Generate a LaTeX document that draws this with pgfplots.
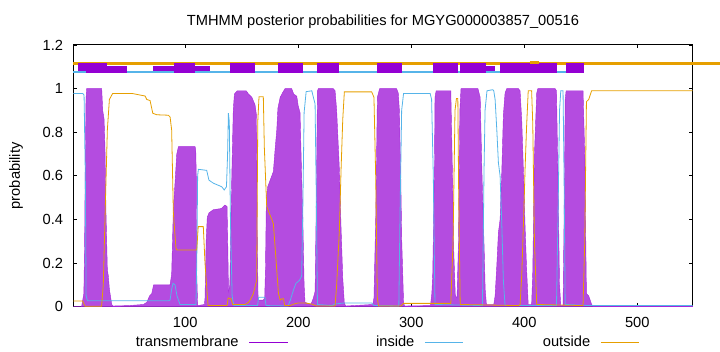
\documentclass[border=0pt]{standalone}
\usepackage{fontspec}
\setmainfont{Liberation Sans}
\usepackage{pgfplots}
\usepackage{pgfplotstable}
\pgfplotsset{compat=1.18}
\definecolor{tmc}{HTML}{9400D3}
\definecolor{tmfill}{HTML}{B44CE0}
\definecolor{inc}{HTML}{56B4E9}
\definecolor{outc}{HTML}{E69F00}

\pgfplotstableread{
x y
1 0
8.3 0
9.3 0.03
10.3 0.06
11 0.3
11.4 0.57
12.2 0.95
12.8 1.0
26.1 1.0
27 0.9
28.2 0.86
29 0.73
29.9 0.43
31.1 0.17
32 0.14
32.9 0.08
33.5 0.06
35 0.01
36 0.003
50 0.005
63 0.01
66 0.02
68.5 0.05
70.4 0.06
72 0.1
86.6 0.1
88 0.15
89.5 0.45
91 0.57
92.5 0.7
94 0.734
108.7 0.734
109.3 0.72
109.8 0.6
110.2 0.15
111 0.005
117 0.01
117.5 0.04
118.5 0.3
119.5 0.41
121 0.43
125 0.445
132 0.45
135 0.466
137 0.46
137.6 0.3
138.3 0.07
139.5 0.1
140.5 0.4
141.2 0.6
142.5 0.9
143.5 0.975
146 0.99
154 0.99
156 0.975
159 0.96
161.8 0.925
163 0.88
163.8 0.3
164.5 0.03
169 0.03
170.3 0.04
171 0.17
171.8 0.5
173 0.55
176.6 0.6
178 0.62
179.5 0.72
181 0.81
182 0.91
184 0.96
186 0.98
188.3 1.0
194.2 1.0
196 0.975
198.7 0.965
200 0.92
201.6 0.89
203 0.6
204 0.42
205.2 0.1
206 0.02
211 0.01
212 0.02
213.4 0.04
214.9 0.07
215.8 0.42
217 0.99
217.8 1.0
231 1.0
232.6 0.99
234 0.9
236.4 0.63
237.9 0.36
239.4 0.13
240.8 0.015
242 0.003
266 0.01
267 0.04
268.6 0.42
270 0.96
272 1.0
287 1.0
288.5 0.98
289.5 0.9
290.7 0.6
291.6 0.3
293.2 0.02
294 0.003
317 0.005
318.2 0.06
319 0.15
320.5 0.63
321 0.96
322 0.99
335 0.99
336.5 0.6
337.5 0.27
339 0.05
340.5 0.04
341.8 0.3
343 0.9
344 1.0
359 1.0
361 0.96
362.4 0.65
363.4 0.45
364.5 0.27
365.4 0.08
366.5 0.01
373 0.01
374.2 0.05
375.7 0.19
377.1 0.34
378.6 0.4
380.1 0.62
381.5 0.88
383 0.98
384.5 1.0
394.8 1.0
396.3 0.99
397.8 0.85
399.7 0.55
400.7 0.37
402 0.18
403.5 0.01
406.5 0.01
407.5 0.16
409 0.7
411 0.98
412 1.0
427.3 1.0
428.5 0.99
429.8 0.6
431.2 0.1
432.3 0.005
434.3 0.005
435.2 0.4
436.2 0.95
437 0.99
452 0.99
453.5 0.7
455 0.06
457 0.05
459.6 0.01
461 0.003
549 0.003
}\tmdata

\pgfplotstableread{
x y
1 0.978
9.3 0.978
10.5 0.97
11.6 0.6
12.3 0.05
13.5 0.027
85 0.027
86.6 0.03
88 0.08
89.2 0.107
91 0.1
92.7 0.05
95.4 0.01
109.5 0.01
110.2 0.2
111 0.6
111.6 0.63
119 0.625
121 0.58
125 0.566
132.3 0.55
134.5 0.535
136.5 0.55
137.5 0.7
138.2 0.887
139 0.85
140 0.4
141.5 0.05
143 0.005
164 0.005
165 0.043
170.5 0.043
171.5 0.005
191 0.003
193 0.03
196 0.08
198 0.107
201 0.12
203 0.14
204 0.43
205.2 0.89
207 0.986
212 0.99
213.4 0.96
214.9 0.93
215.8 0.58
217 0.01
230 0.005
232 0.012
241 0.017
265 0.017
267 0.005
289 0.003
290 0.4
291.5 0.9
293.2 0.978
316.7 0.978
318 0.95
319.5 0.6
321 0.01
363 0.005
364.4 0.63
365.3 0.9
367 0.99
372 0.995
373 0.99
374.2 0.95
375.7 0.81
377.1 0.66
378.6 0.6
380.1 0.38
381.5 0.12
383 0.005
428.5 0.005
429.8 0.4
431.2 0.9
432.3 0.99
434.3 0.99
435.2 0.6
436.2 0.01
458 0.005
549 0.005
}\indata

\pgfplotstableread{
x y
1 0.026
9.3 0.026
10.5 0.01
11.5 0.002
26 0.002
27.5 0.1
29.9 0.58
31.1 0.81
32.9 0.95
35.8 0.978
52.7 0.978
64.5 0.966
66 0.95
68.9 0.945
71.3 0.887
74.8 0.88
85 0.878
86.6 0.87
88 0.81
89.5 0.43
91.8 0.27
92.5 0.26
110.2 0.26
111.5 0.367
116 0.367
117.5 0.2
120.2 0.005
137 0.005
138 0.04
140.5 0.036
142 0.01
153 0.01
156 0.02
158 0.035
160.3 0.06
163.2 0.12
164.2 0.85
165.3 0.963
169.1 0.963
170 0.73
172.1 0.46
173.5 0.44
176.6 0.40
178 0.38
179.5 0.275
182.5 0.06
184 0.03
185.5 0.036
187 0.036
188 0.005
193 0.005
196 0.012
200 0.017
206 0.017
212 0.012
216 0.003
232.6 0.003
234 0.1
236.4 0.35
237.9 0.63
239.4 0.86
240.8 0.985
265 0.985
267 0.96
268.6 0.58
270 0.04
271 0.003
291 0.003
293 0.015
335 0.015
337 0.3
338.7 0.9
340 0.955
341.2 0.955
342 0.5
343.3 0.01
395 0.005
396.3 0.01
397.8 0.15
399.7 0.45
400.7 0.63
402 0.82
403.5 0.99
406.5 0.99
407.5 0.84
409 0.3
411 0.01
452 0.005
453.5 0.3
455 0.94
457 0.95
459.6 0.99
549 0.99
}\outdata

\begin{document}
\fontsize{11}{13}\selectfont
\begin{tikzpicture}
\useasboundingbox (0,0) rectangle (540pt,264pt);
\begin{axis}[
  at={(55pt,34pt)}, anchor=south west,
  scale only axis, width=464.5pt, height=196.25pt,
  xmin=1, xmax=549, ymin=0, ymax=1.2,
  xtick={100,200,300,400,500},
  ytick={0,0.2,0.4,0.6,0.8,1,1.2},
  tick align=inside, major tick length=2.5pt,
  tick style={black, line width=0.5pt},
  axis line style={line width=0.75pt},
  clip=false,
  /pgf/number format/assume math mode=true,
  font=\fontsize{11}{13}\selectfont,
  title={TMHMM posterior probabilities for MGYG000003857\_00516},
  title style={at={(axis description cs:0.5,1)}, anchor=base, yshift=8.5pt},
  ylabel={probability},
  ylabel style={at={(axis description cs:-0.0926,0.5)}, anchor=center},
  yticklabel style={xshift=-3.8pt},
  xticklabel style={yshift=-3.8pt},
  legend columns=3,
  legend plot pos=right,
  legend image code/.code={\draw[#1] (0pt,0pt) -- (28.8pt,0pt);},
  legend style={at={(axis description cs:0.0996,-0.138)}, anchor=west,
    draw=none, fill=none, inner sep=0pt, nodes={inner sep=0pt},
    /tikz/every odd column/.append style={column sep=7.5pt},
    /tikz/every even column/.append style={column sep=17.25pt}},
]
% TM posterior (area)
\addplot[forget plot, fill=tmfill, draw=tmc!85, line width=0.3pt] table[x=x,y=y] {\tmdata} \closedcycle;
% inside and outside
\addplot[forget plot, draw=inc, line width=0.6pt] table[x=x,y=y] {\indata};
\addplot[forget plot, draw=outc, line width=0.6pt] table[x=x,y=y] {\outdata};

% topology lines
\addplot[forget plot, draw=outc, line width=2.6pt] coordinates {(1,1.116) (575,1.116)};
\addplot[forget plot, draw=inc, line width=2pt] coordinates {(1,1.076) (445,1.076)};
% TM boxes
\addplot[forget plot, fill=tmc, draw=none] coordinates {(5.4,1.082) (30.6,1.082) (30.6,1.117) (5.4,1.117)} -- cycle;
\addplot[forget plot, fill=tmc, draw=none] coordinates {(12.2,1.070) (48.3,1.070) (48.3,1.105) (12.2,1.105)} -- cycle;
\addplot[forget plot, fill=tmc, draw=none] coordinates {(71.3,1.082) (90.1,1.082) (90.1,1.105) (71.3,1.105)} -- cycle;
\addplot[forget plot, fill=tmc, draw=none] coordinates {(90.1,1.070) (109,1.070) (109,1.117) (90.1,1.117)} -- cycle;
\addplot[forget plot, fill=tmc, draw=none] coordinates {(109,1.082) (122,1.082) (122,1.105) (109,1.105)} -- cycle;
\addplot[forget plot, fill=tmc, draw=none] coordinates {(139.6,1.070) (161.8,1.070) (161.8,1.117) (139.6,1.117)} -- cycle;
\addplot[forget plot, fill=tmc, draw=none] coordinates {(181.9,1.070) (204,1.070) (204,1.117) (181.9,1.117)} -- cycle;
\addplot[forget plot, fill=tmc, draw=none] coordinates {(216.9,1.070) (235.8,1.070) (235.8,1.117) (216.9,1.117)} -- cycle;
\addplot[forget plot, fill=tmc, draw=none] coordinates {(269.5,1.070) (291.6,1.070) (291.6,1.117) (269.5,1.117)} -- cycle;
\addplot[forget plot, fill=tmc, draw=none] coordinates {(319.6,1.070) (341.7,1.070) (341.7,1.117) (319.6,1.117)} -- cycle;
\addplot[forget plot, fill=tmc, draw=none] coordinates {(343.2,1.070) (366,1.070) (366,1.117) (343.2,1.117)} -- cycle;
\addplot[forget plot, fill=tmc, draw=none] coordinates {(366,1.082) (374.2,1.082) (374.2,1.105) (366,1.105)} -- cycle;
\addplot[forget plot, fill=tmc, draw=none] coordinates {(378.6,1.070) (428.8,1.070) (428.8,1.117) (378.6,1.117)} -- cycle;
\addplot[forget plot, fill=tmc, draw=none] coordinates {(436.7,1.070) (453,1.070) (453,1.117) (436.7,1.117)} -- cycle;
\addplot[forget plot, draw=outc, line width=2.6pt] coordinates {(405,1.12) (413,1.12)};

\addlegendimage{draw=tmc, line width=0.8pt}
\addlegendentry{\makebox[77.5pt][r]{transmembrane}}
\addlegendimage{draw=inc, line width=0.8pt}
\addlegendentry{\makebox[77.5pt][r]{inside}}
\addlegendimage{draw=outc, line width=0.8pt}
\addlegendentry{\makebox[77.5pt][r]{outside}}
\end{axis}
\end{tikzpicture}
\end{document}
